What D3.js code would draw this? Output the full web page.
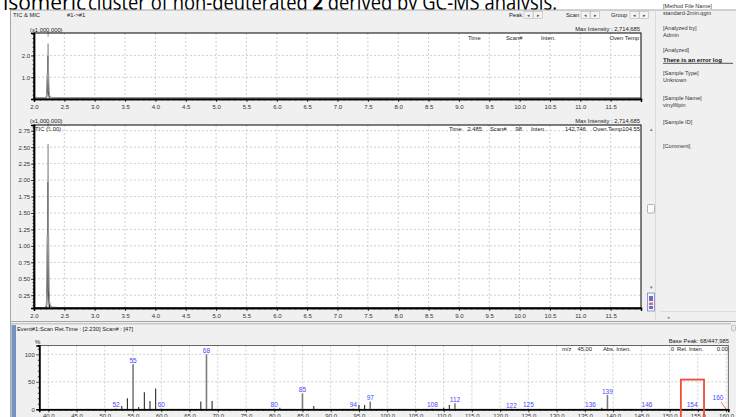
<!DOCTYPE html>
<html><head><meta charset="utf-8">
<script src="https://cdn.jsdelivr.net/npm/d3@7"></script>
<style>
html,body{margin:0;padding:0;background:#fff;overflow:hidden}
svg{display:block}
</style></head><body><svg id="c" width="736" height="417"></svg>
<script>
// ---------------- DATA ----------------
// chromatogram (retention time in min, intensity x1,000,000)
const chromTime = [2.000, 2.0005, 2.010, 2.190, 2.205, 2.215, 2.220, 2.224, 2.228, 2.232, 2.236, 2.240, 2.246, 2.255, 2.270, 2.300, 2.400, 12.000];
const ticInten  = [1.47, 0.07, 0.06, 0.06, 0.10, 0.35, 1.15, 1.15, 1.15, 2.55, 1.15, 1.15, 0.35, 0.15, 0.09, 0.07, 0.06, 0.06];
const micTime   = [2.205, 2.218, 2.226, 2.229, 2.232, 2.240, 2.255];
const micInten  = [0.06, 0.40, 1.40, 1.97, 1.30, 0.30, 0.06];
const rtTicks   = [2.0, 2.5, 3.0, 3.5, 4.0, 4.5, 5.0, 5.5, 6.0, 6.5, 7.0, 7.5, 8.0, 8.5, 9.0, 9.5, 10.0, 10.5, 11.0, 11.5];
const topYTicks = [1.0, 2.0];
const midYTicks = [0.25, 0.50, 0.75, 1.00, 1.25, 1.50, 1.75, 2.00, 2.25, 2.50, 2.75];

// mass spectrum (m/z, relative intensity %)
const mzValues  = [52, 53, 54, 55, 56, 57, 58, 59, 60, 67, 68, 69, 80, 81, 85, 87, 94, 95, 96, 97, 108, 110, 111, 112, 122, 125, 136, 138, 139, 146, 154, 160];
const relInten  = [1.5, 6, 20, 82, 4, 31, 15, 38, 1.2, 14, 100, 15, 1.2, 3, 29, 6, 1.2, 8, 8, 14, 1.2, 3, 8, 11, 1, 1.2, 1.2, 3, 26, 1.2, 1.2, 1];
const labeledMz = [52, 55, 60, 68, 80, 85, 94, 97, 108, 112, 122, 125, 136, 139, 146, 154, 160];
const mzTicks   = [40, 45, 50, 55, 60, 65, 70, 75, 80, 85, 90, 95, 100, 105, 110, 115, 120, 125, 130, 135, 140, 145, 150, 155, 160];
const relTicks  = [0, 50, 100];
const highlightMz = [152.0, 156.1];
const highlightTop = 54;

// info panel
const infoKeys   = ["[Method File Name]", "[Analyzed by]", "[Analyzed]", "[Sample Type]", "[Sample Name]", "[Sample ID]", "[Comment]"];
const infoValues = ["standard-2min.qgm", "Admin", "", "Unknown", "vinylfilpin", "", ""];

// ---------------- DRAW ----------------
const FONT = '"Liberation Sans", Arial, sans-serif';
const svg = d3.select('#c');
svg.append('rect').attr('width', 736).attr('height', 417).attr('fill', '#fff');

function txt(x, y, s, o = {}) {
  return svg.append('text').attr('x', x).attr('y', y).text(s)
    .attr('font-family', o.family || FONT).attr('font-size', o.size || 6)
    .attr('fill', o.fill || '#222').attr('text-anchor', o.anchor || 'start')
    .attr('font-weight', o.weight || 'normal');
}

// title (cut at the top)
const tfont = '"Open Sans", "Noto Sans", sans-serif';
svg.append('text').attr('x', 86).attr('y', 9.5).attr('text-anchor', 'end')
  .attr('font-family', tfont).attr('font-size', 21).text('isomeric');
const tt = svg.append('text').attr('x', 88).attr('y', 9.5)
  .attr('font-family', tfont).attr('font-size', 21)
  .attr('textLength', 469).attr('lengthAdjust', 'spacingAndGlyphs');
tt.append('tspan').text('cluster of non-deuterated ');
tt.append('tspan').attr('font-weight', 'bold').text('2');
tt.append('tspan').text(' derived by GC-MS analysis.');

// window
svg.append('rect').attr('x', 10.5).attr('y', 10).attr('width', 726).attr('height', 408)
  .attr('fill', '#f0f0f0').attr('stroke', '#a8a8a8');
// info panel separator
svg.append('line').attr('x1', 655.5).attr('x2', 655.5).attr('y1', 10).attr('y2', 320).attr('stroke', '#dadada');

// header row
txt(13, 16.5, 'TIC & MIC', { size: 5.8 });
txt(67, 16.5, '#1->#1', { size: 5.8 });
const btnGroups = [{ label: 'Peak', x: 509 }, { label: 'Scan', x: 566 }, { label: 'Group', x: 611 }];
btnGroups.forEach(b => {
  const t = txt(b.x, 17, b.label, { size: 5.8 });
  const bx = b.x + (b.label === 'Group' ? 19 : 15);
  ['\u25C2', '\u25B8'].forEach((a, i) => {
    svg.append('rect').attr('x', bx + i * 9.5).attr('y', 11.5).attr('width', 9).attr('height', 7)
      .attr('fill', '#f4f4f4').attr('stroke', '#b8b8b8').attr('stroke-width', 0.6);
    txt(bx + i * 9.5 + 4.5, 17, a, { size: 4.5, anchor: 'middle', fill: '#555' });
  });
});

// info panel text
const infoY = [5.5, 27.5, 50, 73, 98, 122, 146];
infoKeys.forEach((k, i) => {
  txt(663, infoY[i] + 2, k, { size: 5.6, fill: '#333' });
  if (infoValues[i]) txt(663, infoY[i] + 9, infoValues[i], { size: 5.6, fill: '#333' });
});
const err = txt(663, 62, 'There is an error log', { size: 6.1, weight: 'bold', fill: '#111' });
svg.append('line').attr('x1', 663).attr('x2', 733).attr('y1', 63.3).attr('y2', 63.3).attr('stroke', '#111').attr('stroke-width', 0.7);

// chromatogram panels
const xRT = d3.scaleLinear().domain([2, 12]).range([34, 641]);
const yTop = d3.scaleLinear().domain([0, 3.03]).range([99, 33]);
const yMid = d3.scaleLinear().domain([0.056, 2.837]).range([308, 125]);

function drawChrom(y, yMajor, minorCount, fmt, id) {
  const [b, t] = y.range();
  const g = svg.append('g');
  g.append('rect').attr('x', 34).attr('y', t).attr('width', 607).attr('height', b - t).attr('fill', '#fff');
  g.append('g').selectAll('line').data(rtTicks.slice(1)).join('line')
    .attr('x1', d => xRT(d)).attr('x2', d => xRT(d)).attr('y1', t).attr('y2', b)
    .attr('stroke', '#c4c4c4').attr('stroke-dasharray', '2,2').attr('stroke-width', 0.8);
  g.append('g').selectAll('line').data(yMajor).join('line')
    .attr('x1', 34).attr('x2', 641).attr('y1', d => y(d)).attr('y2', d => y(d))
    .attr('stroke', '#c4c4c4').attr('stroke-dasharray', '2,2').attr('stroke-width', 0.8);
  g.append('clipPath').attr('id', id).append('rect').attr('x', 33).attr('y', t).attr('width', 608).attr('height', b - t + 1);
  const cg = g.append('g').attr('clip-path', `url(#${id})`);
  const micLine = d3.line().x((d, i) => xRT(micTime[i])).y(d => y(d));
  const ticLine = d3.line().x((d, i) => xRT(chromTime[i])).y(d => y(d));
  cg.append('path').attr('d', micLine(micInten)).attr('fill', 'none').attr('stroke', '#000').attr('stroke-width', 1.3);
  cg.append('path').attr('d', ticLine(ticInten)).attr('fill', 'none').attr('stroke', '#9a9a9a').attr('stroke-width', 1.3);
  // peak marker
  g.append('line').attr('x1', xRT(2.232)).attr('x2', xRT(2.232)).attr('y1', t - 2).attr('y2', t + 4)
    .attr('stroke', '#888').attr('stroke-width', 0.8);
  g.append('rect').attr('x', 34).attr('y', t).attr('width', 607).attr('height', b - t)
    .attr('fill', 'none').attr('stroke', '#000').attr('stroke-width', 1);
  // axes
  const ax = d3.axisBottom(xRT).tickValues(rtTicks).tickSize(3).tickPadding(2.5).tickFormat(d3.format('.1f'));
  const axm = d3.axisBottom(xRT).ticks(100).tickSize(1.5).tickFormat('');
  const ay = d3.axisLeft(y).tickValues(yMajor).tickSize(3).tickPadding(0.8).tickFormat(fmt);
  const aym = d3.axisLeft(y).ticks(minorCount).tickSize(1.5).tickFormat('');
  [[ax, `translate(0,${b})`], [axm, `translate(0,${b})`], [ay, 'translate(34,0)'], [aym, 'translate(34,0)']].forEach(([a, tr]) => {
    const ag = g.append('g').attr('transform', tr).call(a);
    ag.select('.domain').attr('stroke', '#000').attr('stroke-width', 1.4);
    ag.selectAll('.tick line').attr('stroke', '#000').attr('stroke-width', 0.7);
    ag.selectAll('text').attr('font-family', FONT).attr('font-size', 6).attr('fill', '#333');
  });
  return g;
}
drawChrom(yTop, topYTicks, 15, d3.format('.1f'), 'clipTop');
drawChrom(yMid, midYTicks, 56, d3.format('.2f'), 'clipMid');

// chrom header texts
txt(30, 31.5, '(x1,000,000)', { size: 5.8 });
txt(640, 31, 'Max Intensity : 2,714,685', { size: 5.8, anchor: 'end' });
txt(468, 39.5, 'Time', { size: 5.8 });
txt(506, 39.5, 'Scan#', { size: 5.8 });
txt(541, 39.5, 'Inten.', { size: 5.8 });
txt(639, 39.5, 'Oven Temp', { size: 5.8, anchor: 'end' });

txt(30, 122.8, '(x1,000,000)', { size: 5.8 });
const tic = txt(35, 130.5, 'TIC (', { size: 5.8 });
tic.append('tspan').attr('fill', '#2da02d').text('1');
tic.append('tspan').text('.00)');
txt(640, 122.5, 'Max Intensity : 2,714,685', { size: 5.8, anchor: 'end' });
txt(449, 130.5, 'Time', { size: 5.8 });
txt(482, 130.5, '2.485', { size: 5.8, anchor: 'end' });
txt(490, 130.5, 'Scan#', { size: 5.8 });
txt(522, 130.5, '98', { size: 5.8, anchor: 'end' });
txt(531, 130.5, 'Inten.', { size: 5.8 });
txt(586, 130.5, '142,746', { size: 5.8, anchor: 'end' });
txt(640, 130.5, 'Oven Temp104.55', { size: 5.8, anchor: 'end' });

// vertical scroll strip
txt(651, 131, '\u25B4', { size: 5, anchor: 'middle', fill: '#777' });
svg.append('rect').attr('x', 647.5).attr('y', 204.5).attr('width', 7).attr('height', 8.5).attr('rx', 1)
  .attr('fill', '#fbfbfb').attr('stroke', '#999').attr('stroke-width', 0.7);
txt(651, 289, '\u25BE', { size: 5, anchor: 'middle', fill: '#777' });
svg.append('rect').attr('x', 647.5).attr('y', 293).attr('width', 7).attr('height', 18)
  .attr('fill', '#f6f6f6').attr('stroke', '#6d6dc8').attr('stroke-width', 0.7);
svg.append('rect').attr('x', 649).attr('y', 296).attr('width', 4).attr('height', 5).attr('fill', '#6a6ad0');
svg.append('rect').attr('x', 649).attr('y', 302.5).attr('width', 4).attr('height', 2.5).attr('fill', '#d86a6a');
svg.append('rect').attr('x', 649).attr('y', 306).attr('width', 4).attr('height', 3).attr('fill', '#6a6ad0');
svg.append('line').attr('x1', 660).attr('x2', 736).attr('y1', 311.5).attr('y2', 311.5).attr('stroke', '#dcdcdc');
txt(668, 319, '\u25C2', { size: 5, anchor: 'middle', fill: '#888' });

// lower panel
svg.append('line').attr('x1', 10).attr('x2', 736).attr('y1', 321.5).attr('y2', 321.5).attr('stroke', '#a6a6a6');
svg.append('line').attr('x1', 10).attr('x2', 731).attr('y1', 323.8).attr('y2', 323.8).attr('stroke', '#8e8e8e').attr('stroke-width', 0.6);
svg.append('rect').attr('x', 11.5).attr('y', 325).attr('width', 4.5).attr('height', 92).attr('fill', '#7592c0');
txt(17, 331, 'Event#1:Scan   Ret.Time : [2.230]   Scan# : [47]', { size: 5.8 });
svg.append('rect').attr('x', 731.5).attr('y', 325).attr('width', 4).attr('height', 6).attr('rx', 1.5)
  .attr('fill', '#e8e8e8').attr('stroke', '#999').attr('stroke-width', 0.5);

const xMZ = d3.scaleLinear().domain([38.4, 160.4]).range([39.3, 728.3]);
const yRel = d3.scaleLinear().domain([0, 116]).range([409.3, 345.5]);
const sg = svg.append('g');
sg.append('rect').attr('x', 39.3).attr('y', 345.5).attr('width', 689).attr('height', 63.8).attr('fill', '#fff');
sg.append('g').selectAll('line').data(mzTicks).join('line')
  .attr('x1', d => xMZ(d)).attr('x2', d => xMZ(d)).attr('y1', 345.5).attr('y2', 409.3)
  .attr('stroke', '#c4c4c4').attr('stroke-dasharray', '2,2').attr('stroke-width', 0.8);
sg.append('g').selectAll('line').data(relTicks.slice(1)).join('line')
  .attr('x1', 39.3).attr('x2', 728.3).attr('y1', d => yRel(d)).attr('y2', d => yRel(d))
  .attr('stroke', '#c4c4c4').attr('stroke-dasharray', '2,2').attr('stroke-width', 0.8);
sg.append('rect').attr('x', 39.3).attr('y', 345.5).attr('width', 689).attr('height', 63.8)
  .attr('fill', 'none').attr('stroke', '#555').attr('stroke-width', 0.9);

// sticks
const spec = mzValues.map((m, i) => ({ m, v: relInten[i], lab: labeledMz.includes(m) }));
sg.append('g').selectAll('line').data(spec).join('line')
  .attr('x1', d => xMZ(d.m)).attr('x2', d => xMZ(d.m)).attr('y1', yRel(0)).attr('y2', d => yRel(d.v))
  .attr('stroke', d => d.lab ? '#7d7d7d' : '#2a2a2a').attr('stroke-width', d => d.lab ? 1.6 : 1.1);

// axes
[[d3.axisBottom(xMZ).tickValues(mzTicks).tickSize(3).tickPadding(1.5).tickFormat(d3.format('.1f')), 'translate(0,409.3)'],
 [d3.axisBottom(xMZ).ticks(120).tickSize(1.5).tickFormat(''), 'translate(0,409.3)'],
 [d3.axisLeft(yRel).tickValues(relTicks).tickSize(3).tickPadding(1.5).tickFormat(d3.format('d')), 'translate(39.3,0)'],
 [d3.axisLeft(yRel).tickValues([10, 20, 30, 40, 60, 70, 80, 90, 110]).tickSize(1.5).tickFormat(''), 'translate(39.3,0)']
].forEach(([a, tr]) => {
  const ag = sg.append('g').attr('transform', tr).call(a);
  ag.select('.domain').attr('stroke', '#000').attr('stroke-width', 1.4);
  ag.selectAll('.tick line').attr('stroke', '#000').attr('stroke-width', 0.7);
  ag.selectAll('text').attr('font-family', FONT).attr('font-size', 6).attr('fill', '#333');
});
txt(35, 344, '%', { size: 6 });

// peak labels
spec.filter(d => d.lab).forEach(d => {
  let x = xMZ(d.m), yy = yRel(d.v) - 1.2;
  if (x + 6 > 728) {
    const lx = x - 8, ly = yRel(0) - 9;
    svg.append('line').attr('x1', lx + 3).attr('y1', ly + 1.5).attr('x2', x).attr('y2', yRel(0))
      .attr('stroke', '#e8503a').attr('stroke-width', 0.8);
    txt(lx, ly, String(d.m), { size: 6.5, anchor: 'middle', fill: '#4646ff' });
  } else {
    txt(x, Math.min(yy, 407.5), String(d.m), { size: 6.5, anchor: 'middle', fill: '#4646ff' });
  }
});

// header inside spectrum
txt(729, 342.5, 'Base Peak: 68/447,985', { size: 5.8, anchor: 'end' });
txt(562, 351, 'm/z', { size: 5.8 });
txt(592, 351, '45.00', { size: 5.8, anchor: 'end' });
txt(603, 351, 'Abs. Inten.', { size: 5.8 });
txt(674, 351, '0', { size: 5.8, anchor: 'end' });
txt(677, 351, 'Rel. Inten.', { size: 5.8 });
txt(728, 351, '0.00', { size: 5.8, anchor: 'end' });

// highlight box
svg.append('rect').attr('x', xMZ(highlightMz[0])).attr('y', yRel(highlightTop))
  .attr('width', xMZ(highlightMz[1]) - xMZ(highlightMz[0])).attr('height', 60)
  .attr('fill', 'none').attr('stroke', '#ef4b3a').attr('stroke-width', 1.8);
</script></body></html>
